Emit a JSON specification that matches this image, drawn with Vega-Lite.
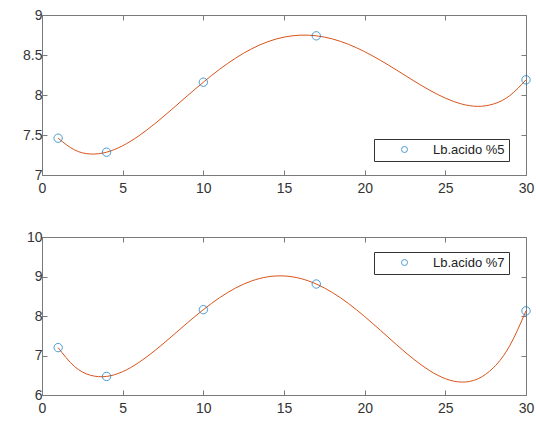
{
  "$schema": "https://vega.github.io/schema/vega-lite/v6.json",
  "background": "white",
  "padding": {"left": 6, "top": 7, "right": 5, "bottom": 2},
  "config": {
    "view": {"stroke": "#7a7a7a", "strokeWidth": 1},
    "font": "Liberation Sans",
    "axis": {
      "grid": false, "domain": false, "tickColor": "#7a7a7a", "tickSize": -5,
      "labelColor": "#333333", "labelFont": "Liberation Sans", "labelFontSize": 14,
      "labelPadding": 5, "labelFlush": false, "labelOverlap": false, "title": null
    },
    "axisBottom": {"labelPadding": 11},
    "legend": {
      "strokeColor": "#333333", "fillColor": "white", "padding": 4,
      "symbolOffset": 20, "labelOffset": 22, "labelFontSize": 13, "labelColor": "#222222",
      "labelFont": "Liberation Sans", "symbolStrokeWidth": 1, "symbolSize": 36,
      "symbolType": "circle", "symbolFillColor": "transparent"
    }
  },
  "datasets": {
    "curve5": [
      {"x": 1, "y": 7.46}, {"x": 2, "y": 7.315}, {"x": 3, "y": 7.2625}, {"x": 4, "y": 7.285},
      {"x": 5, "y": 7.3656}, {"x": 6, "y": 7.4893}, {"x": 7, "y": 7.6422}, {"x": 8, "y": 7.8123},
      {"x": 9, "y": 7.988}, {"x": 10, "y": 8.16}, {"x": 11, "y": 8.3202}, {"x": 12, "y": 8.4613},
      {"x": 13, "y": 8.578}, {"x": 14, "y": 8.6665}, {"x": 15, "y": 8.7235}, {"x": 16, "y": 8.748},
      {"x": 17, "y": 8.74}, {"x": 18, "y": 8.7008}, {"x": 19, "y": 8.6333}, {"x": 20, "y": 8.5413},
      {"x": 21, "y": 8.4309}, {"x": 22, "y": 8.3086}, {"x": 23, "y": 8.1827}, {"x": 24, "y": 8.0631},
      {"x": 25, "y": 7.9608}, {"x": 26, "y": 7.888}, {"x": 27, "y": 7.858}, {"x": 28, "y": 7.8883},
      {"x": 29, "y": 7.9929}, {"x": 30, "y": 8.19}
    ],
    "curve7": [
      {"x": 1, "y": 7.2}, {"x": 2, "y": 6.7271}, {"x": 3, "y": 6.5001}, {"x": 4, "y": 6.47},
      {"x": 5, "y": 6.5911}, {"x": 6, "y": 6.822}, {"x": 7, "y": 7.1259}, {"x": 8, "y": 7.469},
      {"x": 9, "y": 7.8221}, {"x": 10, "y": 8.16}, {"x": 11, "y": 8.4612}, {"x": 12, "y": 8.7086},
      {"x": 13, "y": 8.8886}, {"x": 14, "y": 8.9921}, {"x": 15, "y": 9.0138}, {"x": 16, "y": 8.952},
      {"x": 17, "y": 8.81}, {"x": 18, "y": 8.5939}, {"x": 19, "y": 8.3146}, {"x": 20, "y": 7.9869},
      {"x": 21, "y": 7.6292}, {"x": 22, "y": 7.2645}, {"x": 23, "y": 6.9191}, {"x": 24, "y": 6.624},
      {"x": 25, "y": 6.4137}, {"x": 26, "y": 6.3269}, {"x": 27, "y": 6.4062}, {"x": 28, "y": 6.6986},
      {"x": 29, "y": 7.2543}, {"x": 30, "y": 8.13}
    ],
    "pts5": [
      {"x": 1, "y": 7.46, "series": "Lb.acido %5"}, {"x": 4, "y": 7.285, "series": "Lb.acido %5"},
      {"x": 10, "y": 8.16, "series": "Lb.acido %5"}, {"x": 17, "y": 8.74, "series": "Lb.acido %5"},
      {"x": 30, "y": 8.19, "series": "Lb.acido %5"}
    ],
    "pts7": [
      {"x": 1, "y": 7.2, "series": "Lb.acido %7"}, {"x": 4, "y": 6.47, "series": "Lb.acido %7"},
      {"x": 10, "y": 8.16, "series": "Lb.acido %7"}, {"x": 17, "y": 8.81, "series": "Lb.acido %7"},
      {"x": 30, "y": 8.13, "series": "Lb.acido %7"}
    ]
  },
  "spacing": 62,
  "bounds": "flush",
  "resolve": {"scale": {"x": "independent", "y": "independent", "color": "independent"}, "legend": {"color": "independent"}},
  "vconcat": [
    {
      "width": 484, "height": 160,
      "layer": [
        {
          "data": {"name": "curve5"},
          "mark": {"type": "line", "color": "#D95319", "strokeWidth": 1, "interpolate": "natural"},
          "encoding": {
            "x": {"field": "x", "type": "quantitative", "scale": {"domain": [0, 30], "nice": false},
                  "axis": {"orient": "bottom", "values": [0, 5, 10, 15, 20, 25, 30], "minExtent": 28, "maxExtent": 28}},
            "y": {"field": "y", "type": "quantitative", "scale": {"domain": [7, 9], "nice": false, "zero": false},
                  "axis": {"orient": "left", "values": [7, 7.5, 8, 8.5, 9], "format": ".1~f", "minExtent": 35, "maxExtent": 35}}
          }
        },
        {
          "data": {"name": "pts5"},
          "mark": {"type": "point", "shape": "circle", "filled": false, "strokeWidth": 1, "size": 70},
          "encoding": {
            "x": {"field": "x", "type": "quantitative",
                  "axis": {"orient": "top", "values": [0, 5, 10, 15, 20, 25, 30], "labels": false, "minExtent": 0, "maxExtent": 0}},
            "y": {"field": "y", "type": "quantitative",
                  "axis": {"orient": "right", "values": [7, 7.5, 8, 8.5, 9], "labels": false, "minExtent": 0, "maxExtent": 0}},
            "color": {"field": "series", "type": "nominal", "scale": {"range": ["#0072BD"]},
                      "legend": {"orient": "none", "legendX": 332, "legendY": 124, "title": null}}
          }
        }
      ]
    },
    {
      "width": 484, "height": 158,
      "layer": [
        {
          "data": {"name": "curve7"},
          "mark": {"type": "line", "color": "#D95319", "strokeWidth": 1, "interpolate": "natural"},
          "encoding": {
            "x": {"field": "x", "type": "quantitative", "scale": {"domain": [0, 30], "nice": false},
                  "axis": {"orient": "bottom", "values": [0, 5, 10, 15, 20, 25, 30], "minExtent": 28, "maxExtent": 28}},
            "y": {"field": "y", "type": "quantitative", "scale": {"domain": [6, 10], "nice": false, "zero": false},
                  "axis": {"orient": "left", "values": [6, 7, 8, 9, 10], "format": ".1~f", "minExtent": 35, "maxExtent": 35}}
          }
        },
        {
          "data": {"name": "pts7"},
          "mark": {"type": "point", "shape": "circle", "filled": false, "strokeWidth": 1, "size": 70},
          "encoding": {
            "x": {"field": "x", "type": "quantitative",
                  "axis": {"orient": "top", "values": [0, 5, 10, 15, 20, 25, 30], "labels": false, "minExtent": 0, "maxExtent": 0}},
            "y": {"field": "y", "type": "quantitative",
                  "axis": {"orient": "right", "values": [6, 7, 8, 9, 10], "labels": false, "minExtent": 0, "maxExtent": 0}},
            "color": {"field": "series", "type": "nominal", "scale": {"range": ["#0072BD"]},
                      "legend": {"orient": "none", "legendX": 332, "legendY": 15, "title": null}}
          }
        }
      ]
    }
  ]
}
